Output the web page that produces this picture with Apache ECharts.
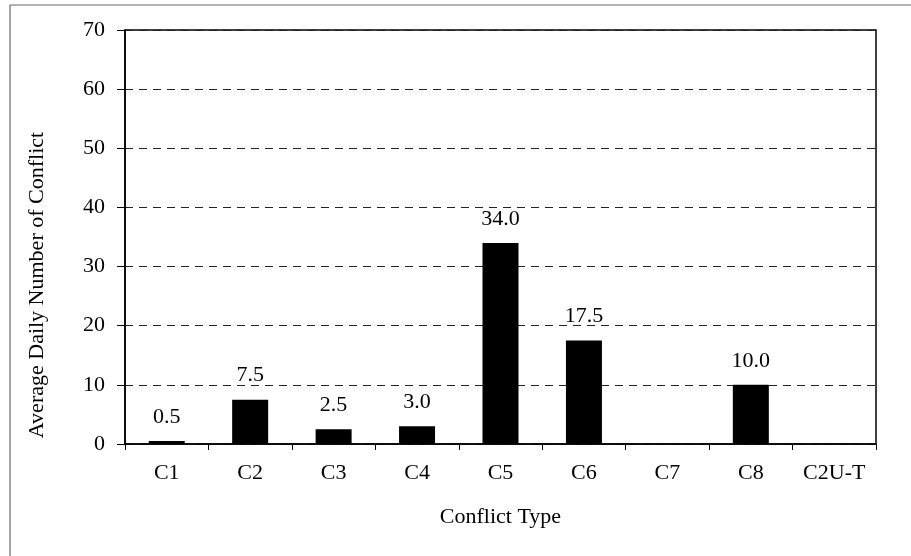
<!DOCTYPE html>
<html><head><meta charset="utf-8">
<script src="https://cdn.jsdelivr.net/npm/echarts@6/dist/echarts.min.js"></script>
<style>html,body{margin:0;padding:0;background:#fff}#c{width:911px;height:556px}</style>
</head><body><div id="c"></div>
<script>
const categories = ['C1','C2','C3','C4','C5','C6','C7','C8','C2U-T'];
const values = [0.5, 7.5, 2.5, 3.0, 34.0, 17.5, 0, 10.0, 0];
const yTicks = [0,10,20,30,40,50,60,70];
const yTitle = 'Average Daily Number of Conflict';
const xTitle = 'Conflict Type';

const font = 'Liberation Serif';
const fs = 22;
const chart = echarts.init(document.getElementById('c'), null, {renderer:'canvas'});
chart.setOption({
  animation:false,
  backgroundColor:'#fff',
  grid:{left:125,right:35,top:30,bottom:112,show:true,borderColor:'#000',borderWidth:1.5,backgroundColor:'transparent'},
  graphic:[
    {type:'line',shape:{x1:10,y1:5,x2:911,y2:5},style:{stroke:'#666',lineWidth:1.2}},
    {type:'line',shape:{x1:10,y1:5,x2:10,y2:556},style:{stroke:'#666',lineWidth:1.2}},
    {type:'text',x:37,y:285,rotation:Math.PI/2,
     style:{text:yTitle,fontFamily:font,fontSize:fs,fill:'#000',align:'center',verticalAlign:'middle'}}
  ],
  xAxis:{
    type:'category',data:categories,
    name:xTitle,nameLocation:'middle',nameGap:73,
    nameTextStyle:{fontFamily:font,fontSize:fs,color:'#000',verticalAlign:'middle'},
    axisLine:{show:true,lineStyle:{color:'#000',width:1.5}},
    axisTick:{show:true,length:6,lineStyle:{color:'#000'}},
    axisLabel:{fontFamily:font,fontSize:fs,color:'#000',margin:18}
  },
  yAxis:{
    type:'value',min:yTicks[0],max:yTicks[yTicks.length-1],interval:10,
    axisLine:{show:true,lineStyle:{color:'#000',width:1.5}},
    axisTick:{show:true,length:8,lineStyle:{color:'#000'}},
    axisLabel:{fontFamily:font,fontSize:fs,color:'#000',margin:20},
    splitLine:{show:true,lineStyle:{color:'#222',type:[8,6],width:1}}
  },
  series:[{
    type:'bar',data:values,barWidth:36,
    itemStyle:{color:'#000'},
    label:{show:true,position:'top',distance:13,fontFamily:font,fontSize:fs,color:'#000',
      formatter:p=>p.value>0?p.value.toFixed(1):''}
  }]
});
</script></body></html>
